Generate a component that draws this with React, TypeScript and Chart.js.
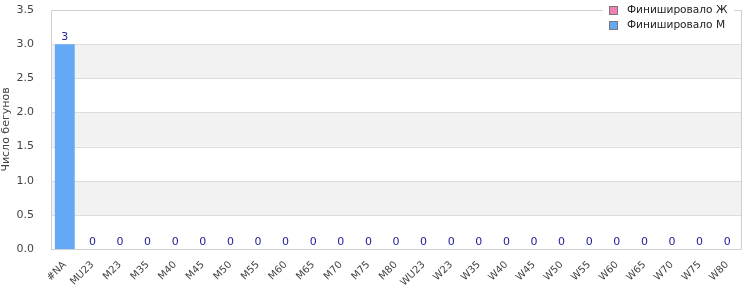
import React, { useEffect, useRef } from "react";
import { Chart, registerables } from "chart.js";

Chart.register(...registerables);

const categories = ["#NA", "MU23", "M23", "M35", "M40", "M45", "M50", "M55", "M60", "M65", "M70", "M75", "M80", "WU23", "W23", "W35", "W40", "W45", "W50", "W55", "W60", "W65", "W70", "W75", "W80"];
const finishedF = [0, 0, 0, 0, 0, 0, 0, 0, 0, 0, 0, 0, 0, 0, 0, 0, 0, 0, 0, 0, 0, 0, 0, 0, 0];
const finishedM = [3, 0, 0, 0, 0, 0, 0, 0, 0, 0, 0, 0, 0, 0, 0, 0, 0, 0, 0, 0, 0, 0, 0, 0, 0];
const seriesNames = ["Финишировало Ж", "Финишировало М"];
const yTitle = "Число бегунов";

const FONT = "'DejaVu Sans', sans-serif";
const PINK = "#f27fb8";
const BLUE = "#63a9f6";

const framePlugin = {
  id: "frame",
  beforeDatasetsDraw(chart: any) {
    const { ctx, chartArea: a, scales } = chart;
    const y = scales.y;
    ctx.save();
    ctx.fillStyle = "#f2f2f2";
    const ticks = y.ticks;
    for (let i = 1; i < ticks.length - 1; i += 2) {
      const top = y.getPixelForValue(ticks[i + 1].value);
      const bot = y.getPixelForValue(ticks[i].value);
      ctx.fillRect(a.left, top, a.right - a.left, bot - top);
    }
    ctx.strokeStyle = "#dddddd";
    ctx.lineWidth = 1;
    for (let i = 1; i < ticks.length; i++) {
      const py = Math.round(y.getPixelForValue(ticks[i].value)) + 0.5;
      ctx.beginPath();
      ctx.moveTo(a.left, py);
      ctx.lineTo(a.right, py);
      ctx.stroke();
    }
    ctx.strokeStyle = "#d0d0d0";
    ctx.strokeRect(Math.round(a.left) + 0.5, Math.round(a.top) + 0.5, Math.round(a.right - a.left), Math.round(a.bottom - a.top));
    ctx.restore();
  },
  afterDraw(chart: any) {
    const { ctx, scales } = chart;
    const x = scales.x;
    const y = scales.y;
    ctx.save();
    ctx.font = `11px ${FONT}`;
    ctx.fillStyle = "#1c1c99";
    ctx.textAlign = "center";
    ctx.textBaseline = "alphabetic";
    categories.forEach((_, i) => {
      const total = finishedF[i] + finishedM[i];
      const px = x.getPixelForValue(i);
      const py = y.getPixelForValue(total);
      ctx.fillText(String(total), px, py - 4);
    });
    ctx.fillStyle = "#ffffff";
    ctx.fillRect(603, 0, 131, 33);
    const colors = [PINK, BLUE];
    ctx.font = `10.6px ${FONT}`;
    seriesNames.forEach((name, i) => {
      const cy = 10 + i * 15;
      ctx.fillStyle = colors[i];
      ctx.fillRect(609, cy - 4, 9, 9);
      ctx.strokeStyle = "#777777";
      ctx.lineWidth = 1;
      ctx.strokeRect(609.5, cy - 4 + 0.5, 8, 8);
      ctx.fillStyle = "#222222";
      ctx.textAlign = "left";
      ctx.textBaseline = "middle";
      ctx.fillText(name, 627, cy + 0.5);
    });
    ctx.restore();
  },
};

export default function App() {
  const ref = useRef<HTMLCanvasElement>(null);
  useEffect(() => {
    document.body.style.margin = "0";
    const chart = new Chart(ref.current!, {
      type: "bar",
      data: {
        labels: categories,
        datasets: [
          { label: seriesNames[0], data: finishedF, backgroundColor: PINK, barPercentage: 0.72, categoryPercentage: 1 },
          { label: seriesNames[1], data: finishedM, backgroundColor: BLUE, barPercentage: 0.72, categoryPercentage: 1 },
        ],
      },
      options: {
        animation: false,
        responsive: false,
        maintainAspectRatio: false,
        layout: { padding: { top: 10, right: 9, left: 0, bottom: 0 } },
        plugins: { legend: { display: false }, tooltip: { enabled: false } },
        scales: {
          x: {
            stacked: true,
            grid: { display: false },
            border: { display: false },
            ticks: { font: { family: FONT, size: 10 }, color: "#444", maxRotation: 45, minRotation: 45, autoSkip: false, padding: 2 },
            afterFit(s: any) { s.height = 51; s.paddingLeft = 0; s.paddingRight = 0; },
          },
          y: {
            stacked: true,
            min: 0,
            max: 3.5,
            grid: { display: false },
            border: { display: false },
            ticks: { stepSize: 0.5, font: { family: FONT, size: 11 }, color: "#444", padding: 9, callback: (v: any) => Number(v).toFixed(1) },
            title: { display: true, text: yTitle, font: { family: FONT, size: 11 }, color: "#444", padding: { top: 0, bottom: 0 } },
            afterFit(s: any) { s.width = 51; s.paddingTop = 0; s.paddingBottom = 0; },
          },
        },
      },
      plugins: [framePlugin],
    });
    return () => chart.destroy();
  }, []);
  return (
    <div style={{ width: 750, height: 300 }}>
      <canvas ref={ref} width={750} height={300} />
    </div>
  );
}
